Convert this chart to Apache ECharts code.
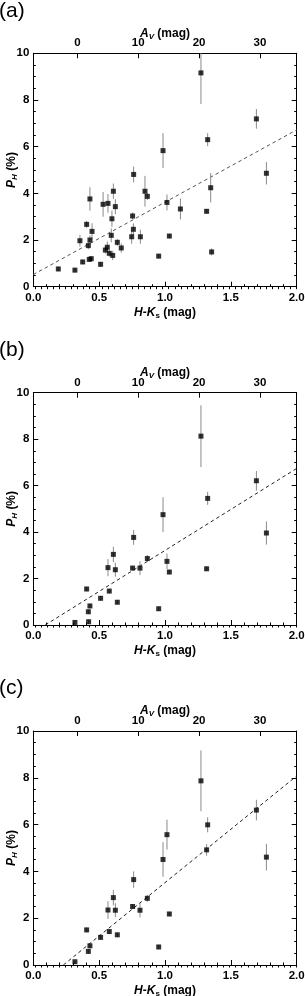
<!DOCTYPE html>
<html><head><meta charset="utf-8">
<script src="https://cdn.jsdelivr.net/npm/echarts@6/dist/echarts.min.js"></script>
<style>html,body{margin:0;padding:0;background:#fff}#c{width:305px;height:996px}</style>
</head><body><div id="c"></div>
<script>
// ---- data ----
const hkA  = [0.19,0.316,0.375,0.354,0.405,0.418,0.43,0.425,0.44,0.43,0.446,0.511,0.53,0.547,0.562,0.567,0.577,0.592,0.597,0.603,0.608,0.623,0.638,0.668,0.754,0.747,0.76,0.762,0.813,0.848,0.866,0.952,0.985,1.015,1.033,1.117,1.273,1.316,1.324,1.347,1.354,1.694,1.77];
const phA  = [0.76,0.71,1.06,1.97,2.67,1.76,2.0,1.17,1.2,3.76,2.37,0.96,3.53,1.57,1.69,3.57,1.43,2.2,2.91,1.34,4.09,3.43,1.9,1.66,3.03,2.14,2.46,4.81,2.14,4.09,3.87,1.31,5.83,3.61,2.17,3.33,9.16,3.23,6.3,4.24,1.49,7.19,4.86];
const errA = [0.1,0.1,0.1,0.25,0.15,0.15,0.2,0.1,0.1,0.5,0.35,0.1,0.53,0.15,0.25,0.4,0.15,0.3,0.35,0.2,0.33,0.32,0.15,0.2,0.15,0.3,0.25,0.34,0.3,0.66,0.15,0.1,0.75,0.34,0.1,0.45,1.33,0.1,0.28,0.63,0.15,0.42,0.48];

const hkB  = [0.316,0.405,0.418,0.42,0.43,0.511,0.567,0.577,0.608,0.623,0.638,0.754,0.762,0.81,0.866,0.952,0.985,1.015,1.033,1.273,1.316,1.324,1.694,1.77];
const phB  = [0.11,1.55,0.57,0.14,0.82,1.15,2.47,1.46,3.04,2.38,0.98,2.45,3.77,2.45,2.86,0.7,4.75,2.74,2.28,8.13,2.42,5.45,6.21,3.96];
const errB = [0.1,0.1,0.1,0.1,0.1,0.1,0.37,0.1,0.33,0.3,0.1,0.1,0.32,0.3,0.15,0.1,0.75,0.33,0.1,1.33,0.1,0.28,0.42,0.5];

const hkC  = [0.316,0.405,0.418,0.43,0.511,0.567,0.577,0.608,0.623,0.638,0.754,0.762,0.81,0.866,0.952,0.985,1.015,1.033,1.273,1.316,1.324,1.694,1.77];
const phC  = [0.14,1.5,0.58,0.82,1.18,2.35,1.43,2.88,2.34,1.29,2.5,3.65,2.34,2.85,0.77,4.51,5.57,2.18,7.87,4.92,5.99,6.62,4.61];
const errC = [0.1,0.1,0.1,0.1,0.1,0.38,0.1,0.33,0.3,0.1,0.1,0.35,0.3,0.15,0.1,0.74,0.64,0.1,1.3,0.25,0.32,0.44,0.57];

// linear fits [intercept, slope]
const fitA = [0.52, 3.10];
const fitB = [-0.32, 3.53];
const fitC = [-1.04, 4.56];

const panelLabels = ['(a)','(b)','(c)'];
const xTicks = [0, 0.5, 1.0, 1.5, 2.0];
const yTicks = [0, 2, 4, 6, 8, 10];
const avMajor = [0, 10, 20, 30];
// A_V = (H-Ks - hk0) / k
const hk0 = 0.335, kAV = 0.0462;

// ---- build ----
const panels = [
  {hk:hkA, ph:phA, err:errA, fit:fitA, top:53.3, h:233.4, lineColor:'#555'},
  {hk:hkB, ph:phB, err:errB, fit:fitB, top:392.7, h:232.3, lineColor:'#222'},
  {hk:hkC, ph:phC, err:errC, fit:fitC, top:731, h:234, lineColor:'#222'}
];
const FF = '"Liberation Sans", Arial, Helvetica, sans-serif';
const tickFS = 11.5;
const avMin = (0 - hk0)/kAV, avMax = (2 - hk0)/kAV;
const avMinor = [];
for (let v = Math.ceil(avMin); v <= Math.floor(avMax); v++) avMinor.push(v);

const richName = {
  i:{fontStyle:'italic', fontWeight:'bold', fontSize:12, fontFamily:FF, color:'#000'},
  s:{fontStyle:'normal', fontWeight:'bold', fontSize:8, fontFamily:FF, color:'#000', padding:[6,0,0,0]},
  si:{fontStyle:'italic', fontWeight:'bold', fontSize:8, fontFamily:FF, color:'#000', padding:[6,0,0,0]},
  n:{fontWeight:'bold', fontSize:12, fontFamily:FF, color:'#000'}
};
const lblStyle = {fontSize:tickFS, fontWeight:'bold', color:'#000', fontFamily:FF};
const axLine = {show:true, onZero:false, lineStyle:{color:'#000', width:1}};

const option = {animation:false, backgroundColor:'#fff', title:[], grid:[], xAxis:[], yAxis:[], series:[]};

panels.forEach((p, i) => {
  option.title.push({text:panelLabels[i], left:-1, top:p.top - 53, padding:0,
    textStyle:{fontSize:21, fontWeight:'normal', fontFamily:FF, color:'#000'}});
  option.grid.push({left:33.3, right:8.3, top:p.top, height:p.h, containLabel:false, outerBoundsMode:'none'});
  // bottom H-Ks
  option.xAxis.push({gridIndex:i, type:'value', position:'bottom', min:0, max:2, interval:0.5,
    axisLine:axLine, axisTick:{show:true, inside:true, length:5, lineStyle:{color:'#000'}},
    minorTick:{show:true, splitNumber:5, length:2.5, lineStyle:{color:'#000'}},
    splitLine:{show:false}, minorSplitLine:{show:false},
    axisLabel:{...lblStyle, margin:5, formatter:v=>v.toFixed(1), customValues:xTicks},
    name:'{i|H-K}{s|s}{n| (mag)}', nameLocation:'middle', nameGap:19, nameMoveOverlap:false,
    nameTextStyle:{rich:richName}});
  // top A_V major
  option.xAxis.push({gridIndex:i, type:'value', position:'top', min:avMin, max:avMax,
    axisLine:axLine, axisTick:{show:true, inside:true, length:5, customValues:avMajor, lineStyle:{color:'#000'}},
    splitLine:{show:false},
    axisLabel:{...lblStyle, margin:4, customValues:avMajor},
    name:'{i|A}{si|V}{n| (mag)}', nameLocation:'middle', nameGap:13, nameMoveOverlap:false,
    nameTextStyle:{rich:richName}});
  // top A_V minor ticks
  option.xAxis.push({gridIndex:i, type:'value', position:'top', min:avMin, max:avMax,
    axisLine:{show:false}, axisTick:{show:true, inside:true, length:2.5, customValues:avMinor, lineStyle:{color:'#000'}},
    splitLine:{show:false}, axisLabel:{show:false}});
  // left
  option.yAxis.push({gridIndex:i, type:'value', position:'left', min:0, max:10, interval:2,
    axisLine:axLine, axisTick:{show:true, inside:true, length:5, lineStyle:{color:'#000'}},
    minorTick:{show:true, splitNumber:4, length:2.5, lineStyle:{color:'#000'}},
    splitLine:{show:false}, minorSplitLine:{show:false},
    axisLabel:{...lblStyle, margin:4, customValues:yTicks},
    name:'{i|P}{si|H}{n| (%)}', nameLocation:'middle', nameGap:15, nameRotate:90, nameMoveOverlap:false,
    nameTextStyle:{rich:richName}});
  // right
  option.yAxis.push({gridIndex:i, type:'value', position:'right', min:0, max:10, interval:2,
    axisLine:axLine, axisTick:{show:true, inside:true, length:5, lineStyle:{color:'#000'}},
    minorTick:{show:true, splitNumber:4, length:2.5, lineStyle:{color:'#000'}},
    splitLine:{show:false}, axisLabel:{show:false}});

  const xi = 3*i, yi = 2*i;
  const pts = p.hk.map((x, k) => [x, p.ph[k], p.err[k]]);
  option.series.push({type:'custom', xAxisIndex:xi, yAxisIndex:yi, clip:true, data:pts, z:2,
    renderItem:(params, api) => {
      const x = api.value(0), y = api.value(1), e = api.value(2);
      const a = api.coord([x, y - e]), b = api.coord([x, y + e]);
      return {type:'line', shape:{x1:a[0], y1:a[1], x2:b[0], y2:b[1]},
        style:{stroke:'#8a8a8a', lineWidth:1}};
    }});
  option.series.push({type:'scatter', xAxisIndex:xi, yAxisIndex:yi, data:pts.map(d=>[d[0],d[1]]),
    symbol:'rect', symbolSize:5, itemStyle:{color:'#000'}, z:3});
  const b0 = p.fit[0], m = p.fit[1];
  const xStart = b0 >= 0 ? 0 : -b0/m;
  option.series.push({type:'line', xAxisIndex:xi, yAxisIndex:yi, showSymbol:false, symbol:'none',
    data:[[xStart, b0 + m*xStart], [2, b0 + m*2]], z:1,
    lineStyle:{color:p.lineColor, width:1, type:[3.5,3]}});
});

const chart = echarts.init(document.getElementById('c'), null, {renderer:'canvas'});
chart.setOption(option);
</script>
</body></html>
